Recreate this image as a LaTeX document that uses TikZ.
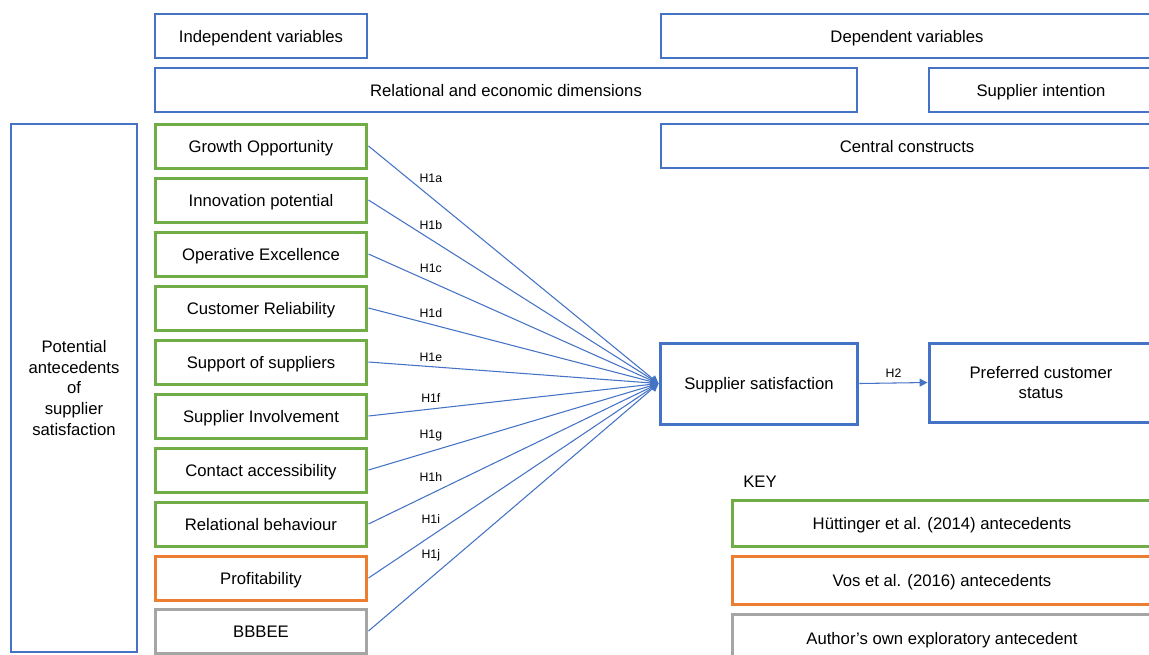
\documentclass[tikz,border=0pt]{standalone}
\usepackage{fontspec}
\setmainfont{Liberation Sans}
\usetikzlibrary{arrows.meta}
\definecolor{aoiro}{HTML}{4472C4}
\definecolor{midoriiro}{HTML}{70AD47}
\definecolor{daidai}{HTML}{ED7D31}
\definecolor{haiiro}{HTML}{A5A5A5}

\begin{document}
\begin{tikzpicture}[x= 0.02cm, y= -0.02cm,
	box/.style= {draw= aoiro, line width= 0.7pt, minimum width= 4.24cm, minimum height= 0.88cm, inner sep= 0pt, align= center, text height= 0.905em, text depth= 0.212em, font= \fontsize{9.5}{11.7}\selectfont},
	midori/.style= {box, draw= midoriiro, line width= 1.7pt},
	orenji/.style= {box, draw= daidai, line width= 1.7pt},
	hai/.style= {box, draw= haiiro, line width= 1.7pt},
	ya/.style= {draw= aoiro, line width= 0.6pt, -{Triangle[length= 4.5pt, width= 4.5pt]}},
	hlab/.style= {font= \fontsize{7}{8}\selectfont, inner sep= 0pt}]
	\useasboundingbox(0, 0) rectangle (1149, 654);
	\fill[white](0, 0) rectangle (1149, 654);
	\clip(0, 0) rectangle (1149, 654); %右端・下端で切る

	\node[box] (indep) at (261, 36) {Independent variables}; %見出し
	\node[box, minimum width= 9.84cm] (dep) at (907, 36) {Dependent variables};
	\node[box, minimum width= 14.04cm] (rel) at (506, 90) {Relational and economic dimensions};
	\node[box, minimum width= 4.48cm] (inten) at (1041, 90) {Supplier intention};
	\node[box, minimum width= 9.84cm] (central) at (907, 146) {Central constructs};
	\node[box, text height= , text depth= , minimum width= 2.52cm, minimum height= 10.56cm] (pot) at (74, 388) {Potential\\antecedents\\of\\supplier\\satisfaction};

	\node[midori] (growth) at (261, 146) {Growth Opportunity}; %先行要因
	\node[midori] (innov) at (261, 200) {Innovation potential};
	\node[midori] (opex) at (261, 254) {Operative Excellence};
	\node[midori] (reli) at (261, 308) {Customer Reliability};
	\node[midori] (supp) at (261, 362) {Support of suppliers};
	\node[midori] (invol) at (261, 416) {Supplier Involvement};
	\node[midori] (contact) at (261, 470) {Contact accessibility};
	\node[midori] (behav) at (261, 524) {Relational behaviour};
	\node[orenji] (profit) at (261, 578) {Profitability};
	\node[hai] (bbbee) at (261, 631) {BBBEE};

	\node[box, line width= 1.7pt, minimum width= 3.96cm, minimum height= 1.62cm] (sat) at (759, 383.5) {Supplier satisfaction}; %中心
	\node[box, text height= , text depth= , line width= 1.7pt, minimum width= 4.48cm, minimum height= 1.58cm] (pref) at (1041, 382.5) {Preferred customer\\status};

	\draw[ya](growth.east)-- node[hlab, pos= 0.215, above= 7.7pt]{H1a} (sat.west); %仮説H1
	\draw[ya](innov.east)-- node[hlab, pos= 0.215, above= 5.4pt]{H1b} (sat.west);
	\draw[ya](opex.east)-- node[hlab, pos= 0.215, above= 5.2pt]{H1c} (sat.west);
	\draw[ya](reli.east)-- node[hlab, pos= 0.215, above= 3.2pt]{H1d} (sat.west);
	\draw[ya](supp.east)-- node[hlab, pos= 0.215, above= 2.3pt]{H1e} (sat.west);
	\draw[ya](invol.east)-- node[hlab, pos= 0.215, above= 3.2pt]{H1f} (sat.west);
	\draw[ya](contact.east)-- node[hlab, pos= 0.215, above= 5.4pt]{H1g} (sat.west);
	\draw[ya](behav.east)-- node[hlab, pos= 0.215, above= 6.6pt]{H1h} (sat.west);
	\draw[ya](profit.east)-- node[hlab, pos= 0.215, above= 7.1pt]{H1i} (sat.west);
	\draw[ya](bbbee.east)-- node[hlab, pos= 0.215, above= 9.5pt]{H1j} (sat.west);
	\draw[ya](sat.east)-- node[hlab, above= 2.6pt]{H2} (pref.west); %仮説H2

	\node[anchor= west, inner sep= 0pt, font= \fontsize{9.5}{11.7}\selectfont] (key) at (743, 482) {KEY}; %凡例
	\node[midori, minimum width= 8.4cm, minimum height= 0.92cm] (keyg) at (942, 523) {Hüttinger et al. (2014) antecedents};
	\node[orenji, minimum width= 8.4cm, minimum height= 0.96cm] (keyo) at (942, 580) {Vos et al. (2016) antecedents};
	\node[hai, minimum width= 8.4cm, minimum height= 0.96cm] (keyh) at (942, 638) {Author’s own exploratory antecedent};
\end{tikzpicture}
\end{document}
